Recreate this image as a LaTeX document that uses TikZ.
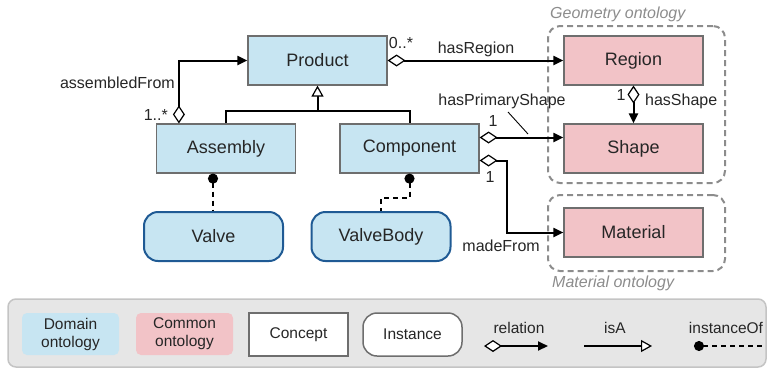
\documentclass[tikz,border=0pt]{standalone}
\usepackage{fontspec}
\setmainfont{Liberation Sans}
\usetikzlibrary{arrows.meta,calc}

\definecolor{domainblue}{HTML}{C7E5F2}
\definecolor{commonpink}{HTML}{F2C3C7}
\definecolor{boxline}{HTML}{6E6E6E}
\definecolor{instline}{HTML}{1F5A94}
\definecolor{groupline}{HTML}{8C8C8C}
\definecolor{legendbg}{HTML}{E6E6E6}
\definecolor{legendline}{HTML}{C4C4C4}
\definecolor{txt}{HTML}{262626}

\tikzset{
  conceptbox/.style={draw=boxline, line width=1.2pt, minimum width=139pt, minimum height=49pt,
    inner sep=0pt, text=txt, font=\fontsize{18}{21}\selectfont},
  domainbox/.style={conceptbox, fill=domainblue},
  commonbox/.style={conceptbox, fill=commonpink},
  instbox/.style={domainbox, draw=instline, line width=2pt, rounded corners=14pt},
  groupbox/.style={draw=groupline, line width=2pt, dash pattern=on 6pt off 4pt,
    rounded corners=12pt, minimum width=177pt, inner sep=0pt},
  grouplabel/.style={text=groupline, font=\fontsize{16}{19}\selectfont\itshape, inner sep=0pt},
  lbl/.style={font=\fontsize{16}{19}\selectfont, text=txt, inner sep=1pt},
  relline/.style={line width=2pt,
    {Diamond[fill=white,length=18pt,width=12pt,line width=1.2pt]}-{Triangle[length=10pt,width=9pt]}},
  isaline/.style={line width=2pt, -{Triangle[fill=white,length=11pt,width=12pt,line width=1.2pt]}},
  instofline/.style={line width=2pt, dash pattern=on 5pt off 4pt, {Circle[length=10pt]}-},
  legsw/.style={minimum width=97pt, minimum height=42pt, rounded corners=5pt, inner sep=0pt,
    align=center, font=\fontsize{15.5}{18}\selectfont, text=txt},
  legtext/.style={font=\fontsize{15.5}{18}\selectfont, text=txt, inner sep=0pt},
}

\begin{document}
\begin{tikzpicture}[x=1pt,y=-1pt]
\useasboundingbox (0,0) rectangle (769,368);

% ontology groups
\node[groupbox, minimum height=157pt] (geo) at (636.5,104.5) {};
\node[groupbox, minimum height=76pt] (mat) at (636.5,233) {};
\node[grouplabel, anchor=base west] (geolbl) at (550,18) {Geometry ontology};
\node[grouplabel, anchor=base west] (matlbl) at (552,287) {Material ontology};

% concepts and instances
\node[domainbox] (product) at (317.5,60.5) {Product};
\node[domainbox] (assembly) at (226,148.5) {Assembly};
\node[domainbox] (component) at (409.5,148.5) {Component};
\node[commonbox] (region) at (633.5,60.5) {Region};
\node[commonbox] (shape) at (633.5,148.5) {Shape};
\node[commonbox] (material) at (633.5,232.5) {Material};
\node[instbox] (valve) at (213.5,236.5) {Valve};
\node[instbox] (valvebody) at (381,236.5) {ValveBody};

% isA tree
\coordinate (isay) at (0,111);
\coordinate (isajoin) at (product.south |- isay);
\draw[line width=2pt] (assembly.north) |- (isajoin) -| (component.north);
\draw[isaline] (isajoin) -- (product.south);

% assembledFrom
\coordinate (afstart) at ($(assembly.north west)+(23,0)$);
\draw[relline] (afstart) |- (product.west);
\node[lbl, anchor=east] (lafrom) at (176,83) {assembledFrom};
\node[lbl, anchor=east] (mafrom) at (169,115) {1..*};

% hasRegion
\draw[relline] (product.east) -- (region.west);
\node[lbl] (lregion) at (476,49) {hasRegion};
\node[lbl] (mregion) at (401,43) {0..*};

% hasPrimaryShape
\coordinate (psstart) at ($(component.east)+(0,-11)$);
\draw[relline] (psstart) -- (psstart -| shape.west);
\node[lbl] (lprim) at (502,101) {hasPrimaryShape};
\node[lbl] (mprim) at (493,121) {1};
\coordinate (leadA) at (508,112);
\coordinate (leadB) at (528,134);
\draw[line width=0.9pt] (leadA) -- (leadB);

% madeFrom
\coordinate (mfstart) at ($(component.east)+(0,12)$);
\coordinate (mfbend) at ($(mfstart)+(27,0)$);
\draw[relline] (mfstart) -- (mfbend) |- (material.west);
\node[lbl, anchor=east] (lmade) at (541,246) {madeFrom};
\node[lbl] (mmade) at (490,177) {1};

% hasShape
\draw[relline] (region.south) -- (shape.north);
\node[lbl] (mshape) at (621,95) {1};
\node[lbl, anchor=west] (lshape) at (644,101) {hasShape};

% instanceOf
\coordinate (ioa) at ($(assembly.south)+(-13,0)$);
\draw[instofline] (ioa) -- (ioa |- valve.north);
\coordinate (ioc) at ($(component.south)+(0,24)$);
\draw[instofline] (component.south) -- (ioc) -| (valvebody.north);

% legend
\node[draw=legendline, fill=legendbg, line width=1.5pt, rounded corners=8pt,
      minimum width=758pt, minimum height=68pt] (legend) at (387,333) {};
\node[legsw, fill=domainblue] (kdomain) at (70.5,334) {Domain\\ontology};
\node[legsw, fill=commonpink] (kcommon) at (184.5,334) {Common\\ontology};
\node[legsw, fill=white, draw=boxline, line width=1.2pt, sharp corners, minimum width=99pt, minimum height=43pt] (kconcept) at (298.5,334.5) {Concept};
\node[legsw, fill=white, draw=boxline, line width=1.5pt, rounded corners=14pt, minimum width=99pt, minimum height=43pt] (kinst) at (412.5,334.5) {Instance};

\node[legtext] (krel) at (519,328) {relation};
\coordinate (krelA) at (484,346);
\coordinate (krelB) at (548,346);
\draw[relline] (krelA) -- (krelB);

\node[legtext] (kisa) at (615,328) {isA};
\coordinate (kisaA) at (584,346);
\coordinate (kisaB) at (652,346);
\draw[isaline] (kisaA) -- (kisaB);

\node[legtext] (kio) at (726,328) {instanceOf};
\coordinate (kioA) at (694,346);
\coordinate (kioB) at (762,346);
\draw[instofline] (kioA) -- (kioB);
\end{tikzpicture}
\end{document}
